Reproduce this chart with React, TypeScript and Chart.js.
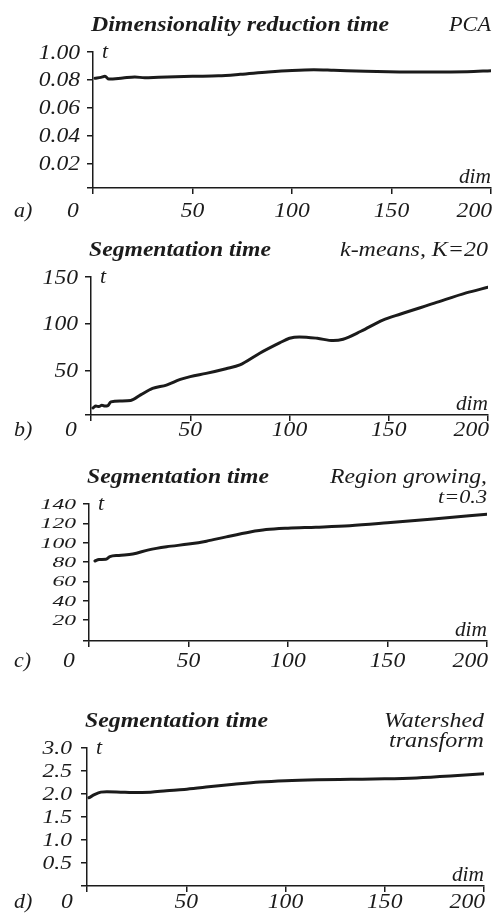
import React, { useEffect, useRef } from 'react';
import { Chart, registerables } from 'chart.js';

Chart.register(...registerables);

// ---------- data ----------
const xTicks = [0, 50, 100, 150, 200];
const xLabels = ['0', '50', '100', '150', '200'];

// a) PCA
const dimA = [1, 4, 6, 8, 15, 21, 26, 33, 50, 63, 74, 88, 100, 111, 121, 137, 154, 171, 188, 200];
const timeA = [0.0812, 0.0818, 0.0826, 0.0806, 0.0814, 0.0821, 0.0815, 0.0819, 0.0826, 0.0829, 0.084, 0.0857, 0.0868, 0.0873, 0.0869, 0.0862, 0.0857, 0.0856, 0.0859, 0.0866];
const yTicksA = [0.02, 0.04, 0.06, 0.08, 0.1];
const yLabelsA = ['0.02', '0.04', '0.06', '0.08', '1.00'];

// b) k-means, K=20
const dimB = [1, 2.5, 4, 5.5, 7, 8.5, 10, 15, 20, 25, 31, 38, 45, 50, 58, 68, 75, 85, 95, 100, 105, 114, 122, 127, 136, 147, 156, 173, 189, 200];
const timeB = [10, 12, 11.5, 13, 12, 12.5, 16.5, 17.5, 18, 24, 31, 34.5, 40.5, 43.5, 47, 52, 56, 68.5, 79.5, 84.5, 86, 84.5, 82, 83.5, 92, 104, 110.5, 122, 133, 139];
const yTicksB = [50, 100, 150];
const yLabelsB = ['50', '100', '150'];

// c) Region growing, t=0.3
const dimC = [3, 5, 8.5, 10.5, 15, 22, 30, 39, 50, 59, 69, 81, 89, 100, 114, 131, 150, 173, 200];
const timeC = [81, 82.5, 82.7, 85.5, 86.8, 88.2, 92.5, 95.7, 98.5, 101.5, 106, 111, 113.5, 115, 116, 117.5, 120.5, 124.5, 129.5];
const yTicksC = [20, 40, 60, 80, 100, 120, 140];
const yLabelsC = ['20', '40', '60', '80', '100', '120', '140'];

// d) Watershed transform
const dimD = [1, 4, 7, 10, 17, 23, 32, 40, 49, 60, 74, 87, 100, 116, 133, 150, 166, 183, 200];
const timeD = [1.92, 1.99, 2.04, 2.05, 2.04, 2.03, 2.04, 2.07, 2.1, 2.15, 2.21, 2.26, 2.29, 2.31, 2.32, 2.33, 2.35, 2.39, 2.44];
const yTicksD = [0.5, 1.0, 1.5, 2.0, 2.5, 3.0];
const yLabelsD = ['0.5', '1.0', '1.5', '2.0', '2.5', '3.0'];

// ---------- styling / layout ----------
const FONT = '"Liberation Serif", "Times New Roman", serif';
const INK = '#1b1b1b';

type Spec = {
  top: number;
  height: number;
  left: number;
  right: number;
  plotTop: number;
  plotBottom: number;
  yMin: number;
  yMax: number;
  xs: number[];
  ys: number[];
  yTicks: number[];
  yLabels: string[];
  ySy: number;
  yGap: number;
  xLabelDy: number;
  letter: string;
  title: string;
  titleWidth: number;
  note: string[];
  noteWidths: number[];
  noteSy: number[];
};

const specs: Spec[] = [
  {
    top: 0, height: 229, left: 93, right: 491, plotTop: 52, plotBottom: 188,
    yMin: 0.0025, yMax: 0.1, xs: dimA, ys: timeA, yTicks: yTicksA, yLabels: yLabelsA,
    ySy: 1, yGap: 13, xLabelDy: 29, letter: 'a)',
    title: 'Dimensionality reduction time', titleWidth: 298,
    note: ['PCA'], noteWidths: [42], noteSy: [1],
  },
  {
    top: 229, height: 229, left: 91, right: 488, plotTop: 277, plotBottom: 415,
    yMin: 2.5, yMax: 150, xs: dimB, ys: timeB, yTicks: yTicksB, yLabels: yLabelsB,
    ySy: 1, yGap: 13, xLabelDy: 21, letter: 'b)',
    title: 'Segmentation time', titleWidth: 182,
    note: ['k-means, K=20'], noteWidths: [148], noteSy: [1],
  },
  {
    top: 458, height: 229, left: 89, right: 487, plotTop: 504, plotBottom: 641,
    yMin: -1.8, yMax: 140, xs: dimC, ys: timeC, yTicks: yTicksC, yLabels: yLabelsC,
    ySy: 0.76, yGap: 13, xLabelDy: 26, letter: 'c)',
    title: 'Segmentation time', titleWidth: 182,
    note: ['Region growing,', 't=0.3'], noteWidths: [157, 49], noteSy: [1, 0.85],
  },
  {
    top: 687, height: 230, left: 87, right: 484, plotTop: 748, plotBottom: 886,
    yMin: 0, yMax: 3, xs: dimD, ys: timeD, yTicks: yTicksD, yLabels: yLabelsD,
    ySy: 0.9, yGap: 15, xLabelDy: 22, letter: 'd)',
    title: 'Segmentation time', titleWidth: 183,
    note: ['Watershed', 'transform'], noteWidths: [100, 95], noteSy: [1, 1],
  },
];

function drawText(
  ctx: CanvasRenderingContext2D,
  text: string,
  x: number,
  y: number,
  font: string,
  align: CanvasTextAlign,
  o: { sx?: number; sy?: number; width?: number } = {}
) {
  ctx.save();
  ctx.font = font;
  ctx.textBaseline = 'alphabetic';
  ctx.textAlign = align;
  let sx = o.sx ?? 1;
  if (o.width) sx = o.width / ctx.measureText(text).width;
  ctx.translate(x, y);
  ctx.scale(sx, o.sy ?? 1);
  ctx.fillText(text, 0, 0);
  ctx.restore();
}

const XH = 12;

function Panel({ spec }: { spec: Spec }) {
  const ref = useRef<HTMLCanvasElement>(null);
  useEffect(() => {
    const s = spec;
    const canvas = ref.current!;
    const tickFont = `italic 20px ${FONT}`;
    const plugin = {
      id: 'panelText',
      afterDraw(chart: any) {
        const { ctx, chartArea: a, scales } = chart;
        const xsc = scales.x;
        const ysc = scales.y;
        ctx.save();
        ctx.fillStyle = INK;
        drawText(ctx, s.title, a.left - 2, a.top - 21, `italic bold 21px ${FONT}`, 'left', { width: s.titleWidth });
        s.note.forEach((line, i) =>
          drawText(ctx, line, a.right, a.top - 21 + i * 20, `italic 21px ${FONT}`, 'right', {
            width: s.noteWidths[i],
            sy: s.noteSy[i],
          })
        );
        s.yTicks.forEach((v, i) => {
          const py = ysc.getPixelForValue(v);
          drawText(ctx, s.yLabels[i], a.left - s.yGap, py + 6.6 * s.ySy, tickFont, 'right', { sx: 1.18, sy: s.ySy });
        });
        const xb = a.bottom + s.xLabelDy;
        xTicks.forEach((v, i) => {
          const px = xsc.getPixelForValue(v);
          let x = px;
          let align: CanvasTextAlign = 'center';
          if (i === 0) x = px - 20;
          if (i === xTicks.length - 1) {
            align = 'right';
            x = px + 1;
          }
          drawText(ctx, xLabels[i], x, xb, tickFont, align, { sx: 1.18 });
        });
        drawText(ctx, s.letter, 14, xb, tickFont, 'left', { sx: 1.1 });
        drawText(ctx, 'dim', a.right, a.bottom - 5, tickFont, 'right', { sx: 1.07 });
        drawText(ctx, 't', a.left + 9, a.top + 6, tickFont, 'left', { sx: 1.1 });
        ctx.restore();
      },
    };

    const chart = new Chart(canvas, {
      type: 'line',
      data: {
        datasets: [
          {
            data: s.xs.map((x, i) => ({ x, y: s.ys[i] })),
            borderColor: INK,
            borderWidth: 3,
            pointRadius: 0,
            fill: false,
            cubicInterpolationMode: 'monotone',
            borderCapStyle: 'round',
            borderJoinStyle: 'round',
          },
        ],
      },
      options: {
        responsive: false,
        animation: false,
        devicePixelRatio: 1,
        events: [],
        layout: {
          padding: {
            left: 0,
            top: s.plotTop - s.top,
            right: 495 - s.right,
            bottom: s.top + s.height - s.plotBottom - XH,
          },
        },
        plugins: { legend: { display: false }, tooltip: { enabled: false }, title: { display: false } },
        scales: {
          x: {
            type: 'linear',
            min: 0,
            max: 200,
            afterBuildTicks: (sc: any) => {
              sc.ticks = xTicks.map((v) => ({ value: v }));
            },
            afterFit: (sc: any) => {
              sc.height = XH;
            },
            ticks: { display: false },
            grid: { drawOnChartArea: false, drawTicks: true, tickLength: 6, color: INK, lineWidth: 1.5 },
            border: { display: true, color: INK, width: 1.5 },
          },
          y: {
            type: 'linear',
            min: s.yMin,
            max: s.yMax,
            afterBuildTicks: (sc: any) => {
              sc.ticks = [s.yMin, ...s.yTicks].map((v) => ({ value: v }));
            },
            afterFit: (sc: any) => {
              sc.width = s.left;
            },
            ticks: { display: false },
            grid: { drawOnChartArea: false, drawTicks: true, tickLength: 6, color: INK, lineWidth: 1.5 },
            border: { display: true, color: INK, width: 1.5 },
          },
        },
      },
      plugins: [plugin],
    } as any);
    return () => chart.destroy();
  }, [spec]);
  return (
    <canvas
      ref={ref}
      width={495}
      height={spec.height}
      style={{ position: 'absolute', left: 0, top: spec.top, display: 'block', width: 495, height: spec.height }}
    />
  );
}

export default function App() {
  return (
    <div style={{ position: 'absolute', left: 0, top: 0, width: 495, height: 917, background: '#fff', overflow: 'hidden' }}>
      {specs.map((s, i) => (
        <Panel key={i} spec={s} />
      ))}
    </div>
  );
}
